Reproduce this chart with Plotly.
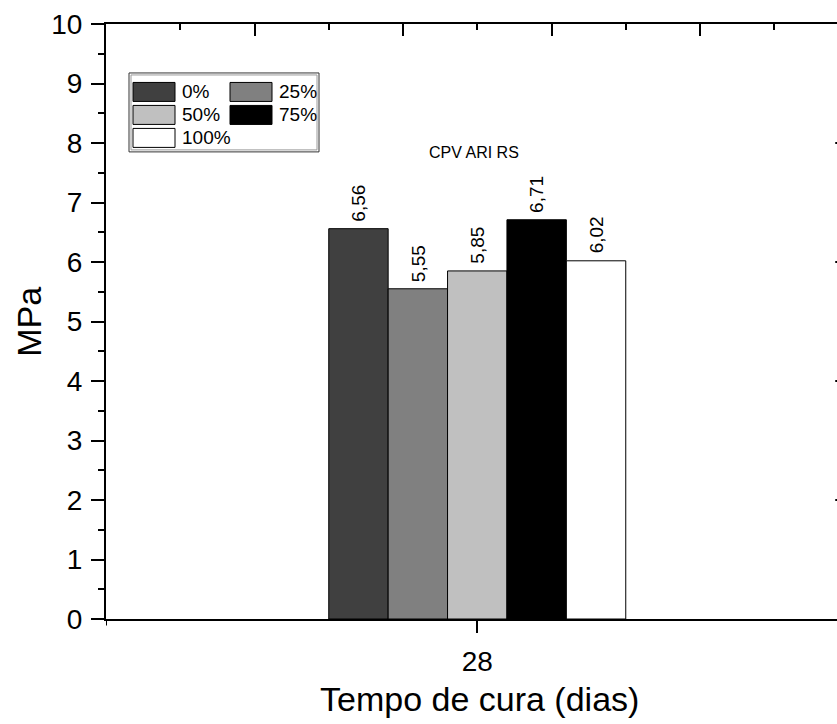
import plotly.graph_objects as go

# ---- data ----
categories = ["28"]
series_names = ["0%", "25%", "50%", "75%", "100%"]
series_values = [6.56, 5.55, 5.85, 6.71, 6.02]
value_labels = ["6,56", "5,55", "5,85", "6,71", "6,02"]
bar_colors = ["#404040", "#808080", "#c0c0c0", "#000000", "#ffffff"]
y_ticks = list(range(0, 11))
series_title = "CPV ARI RS"
x_title = "Tempo de cura (dias)"
y_title = "MPa"

FONT = "Arial, Liberation Sans, sans-serif"
W, H = 837, 724
ML, MR, MT, MB = 106, 0, 24, 104.5
PW, PH = W - ML - MR, H - MT - MB


def px(xp):
    return (xp - ML) / PW


def py(yp):
    return (H - MB - yp) / PH


fig = go.Figure()

n = len(series_names)
group_w = 0.8
bw = group_w / n
unit_px = 371.25
x_range = [-1.0, (W - MR - ML) / unit_px - 1.0]

for i, (name, val, col) in enumerate(zip(series_names, series_values, bar_colors)):
    fig.add_trace(go.Bar(
        x=[0], y=[val], name=name, width=bw, offset=-group_w / 2 + i * bw,
        marker=dict(color=col, line=dict(color="black", width=1)),
        showlegend=False, hoverinfo="skip",
    ))
    fig.add_annotation(
        x=-group_w / 2 + (i + 0.5) * bw, y=val, text=value_labels[i],
        textangle=-90, showarrow=False, xanchor="center", yanchor="bottom",
        yshift=5, font=dict(family=FONT, size=19, color="black"),
    )

# invisible trace to activate top axis
fig.add_trace(go.Scatter(x=[0], y=[0], xaxis="x2", mode="markers",
                         marker=dict(opacity=0), showlegend=False, hoverinfo="skip"))

fig.update_layout(
    width=W, height=H,
    margin=dict(l=ML, r=MR, t=MT, b=MB),
    paper_bgcolor="white", plot_bgcolor="white",
    barmode="overlay",
    font=dict(family=FONT, color="black"),
    xaxis=dict(
        range=x_range, tickvals=[0], ticktext=categories,
        ticks="outside", ticklen=12, tickwidth=2, tickcolor="black",
        showline=True, linewidth=2, linecolor="black", mirror=False,
        showgrid=False, zeroline=False, ticklabelstandoff=4,
        tickfont=dict(family=FONT, size=28),
    ),
    xaxis2=dict(
        overlaying="x", side="top", range=x_range, tick0=-1, dtick=0.4,
        ticks="inside", ticklen=12, tickwidth=2, tickcolor="black",
        minor=dict(ticks="inside", ticklen=6, tickwidth=2, tickcolor="black", dtick=0.2, tick0=-1),
        showticklabels=False, showline=True, linewidth=2, linecolor="black",
        showgrid=False, zeroline=False,
    ),
    yaxis=dict(
        range=[0, 10], tickvals=y_ticks, ticks="outside", ticklen=13, tickwidth=2,
        tickcolor="black",
        minor=dict(ticks="outside", ticklen=6, tickwidth=2, tickcolor="black", dtick=0.5),
        showline=True, linewidth=2, linecolor="black",
        showgrid=False, zeroline=False, ticklabelstandoff=3,
        tickfont=dict(family=FONT, size=28),
    ),
)

# axis titles
fig.add_annotation(xref="paper", yref="paper", x=px(479), y=py(700), text=x_title,
                   showarrow=False, xanchor="center", yanchor="middle",
                   font=dict(family=FONT, size=34, color="black"))
fig.add_annotation(xref="paper", yref="paper", x=px(29), y=py(322), text=y_title,
                   textangle=-90, showarrow=False, xanchor="center", yanchor="middle",
                   font=dict(family=FONT, size=34, color="black"))

# small overhang of left spine below the bottom axis
fig.add_shape(type="line", xref="x", yref="paper", x0=x_range[0], x1=x_range[0],
              y0=py(619.5), y1=py(626), line=dict(color="black", width=2))

# right-axis ticks (spine lies just beyond the visible area)
for v in [2, 4, 6, 8]:
    fig.add_shape(type="line", xref="x", yref="y", x0=(835 - 477) / unit_px,
                  x1=x_range[1], y0=v, y1=v, line=dict(color="black", width=2))

# series title
fig.add_annotation(xref="paper", yref="paper", x=px(474), y=py(153), text=series_title,
                   showarrow=False, xanchor="center", yanchor="middle",
                   font=dict(family=FONT, size=16, color="black"))

# manual legend (2 columns)
fig.add_shape(type="rect", xref="paper", yref="paper", x0=px(129), x1=px(319), y0=py(152), y1=py(73),
              line=dict(color="#333333", width=1), fillcolor="white", layer="above")
fig.add_shape(type="rect", xref="paper", yref="paper", x0=px(131), x1=px(317), y0=py(150), y1=py(75),
              line=dict(color="#9a9a9a", width=1), layer="above")
col_x = [133, 230]
row_y = [92, 115, 138]
for i, (name, col) in enumerate(zip(series_names, bar_colors)):
    r, c = divmod(i, 2)
    x0 = col_x[c]
    yc = row_y[r]
    fig.add_shape(type="rect", xref="paper", yref="paper", x0=px(x0), x1=px(x0 + 42),
                  y0=py(yc + 9.5), y1=py(yc - 9.5), fillcolor=col,
                  line=dict(color="black", width=1), layer="above")
    fig.add_annotation(xref="paper", yref="paper", x=px(x0 + 47), y=py(yc), text=name,
                       showarrow=False, xanchor="left", yanchor="middle",
                       font=dict(family=FONT, size=19, color="black"))

fig.write_html("out.html")
